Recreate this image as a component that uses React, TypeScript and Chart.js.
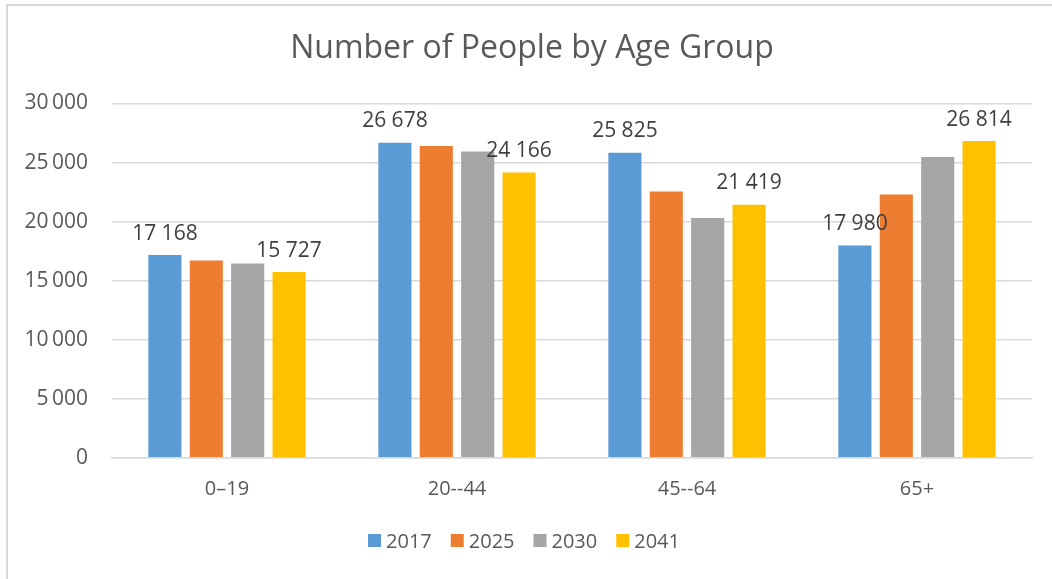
import React, { useEffect, useRef } from "react";
import { Chart, registerables } from "chart.js";

Chart.register(...registerables);

// ---- data ----
const categories = ["0–19", "20--44", "45--64", "65+"];
const seriesNames = ["2017", "2025", "2030", "2041"];
const values2017 = [17168, 26678, 25825, 17980];
const values2025 = [16700, 26400, 22550, 22300];
const values2030 = [16440, 25930, 20300, 25470];
const values2041 = [15727, 24166, 21419, 26814];
const seriesColors = ["#5B9BD5", "#ED7D31", "#A5A5A5", "#FFC000"];
const labeledSeries = [0, 3];
const yMin = 0;
const yMax = 30000;
const yStep = 5000;
const titleText = "Number of People by Age Group";

const FONT = "'Open Sans', sans-serif";
const TEXT = "#595959";
const LABEL = "#404040";
const GRID = "#D9D9D9";

function fmt(v: number, sep: string): string {
  return String(Math.round(v)).replace(/\B(?=(\d{3})+(?!\d))/g, sep);
}

const titlePlugin = {
  id: "customTitle",
  afterDraw(chart: any) {
    const ctx = chart.ctx;
    ctx.save();
    ctx.font = `32px ${FONT}`;
    ctx.fillStyle = TEXT;
    ctx.textAlign = "center";
    ctx.textBaseline = "alphabetic";
    ctx.fillText(titleText, chart.width / 2 + 6, 58);
    ctx.restore();
  },
};

const dataLabelPlugin = {
  id: "dataLabels",
  afterDatasetsDraw(chart: any) {
    const ctx = chart.ctx;
    ctx.save();
    ctx.font = `21px ${FONT}`;
    ctx.fillStyle = LABEL;
    ctx.textAlign = "center";
    ctx.textBaseline = "alphabetic";
    labeledSeries.forEach((di) => {
      const meta = chart.getDatasetMeta(di);
      const ds = chart.data.datasets[di];
      meta.data.forEach((bar: any, j: number) => {
        ctx.fillText(fmt(ds.data[j] as number, " "), bar.x, bar.y - 15.5);
      });
    });
    ctx.restore();
  },
};

const legendPlugin = {
  id: "customLegend",
  afterDraw(chart: any) {
    const ctx = chart.ctx;
    ctx.save();
    ctx.font = `20px ${FONT}`;
    const box = 13;
    const gap = 5;
    const itemGap = 19;
    const widths = chart.data.datasets.map(
      (ds: any) => box + gap + ctx.measureText(ds.label).width
    );
    const total =
      widths.reduce((a: number, b: number) => a + b, 0) +
      itemGap * (widths.length - 1);
    let x = chart.width / 2 - 2 - total / 2;
    const boxTop = 534;
    const baseline = 548;
    chart.data.datasets.forEach((ds: any, i: number) => {
      ctx.fillStyle = ds.backgroundColor;
      ctx.fillRect(x, boxTop, box, box);
      ctx.fillStyle = TEXT;
      ctx.textAlign = "left";
      ctx.textBaseline = "alphabetic";
      ctx.fillText(ds.label, x + box + gap, baseline);
      x += widths[i] + itemGap;
    });
    ctx.restore();
  },
};

export default function App() {
  const canvasRef = useRef<HTMLCanvasElement | null>(null);

  useEffect(() => {
    if (!canvasRef.current) return;
    const allValues = [values2017, values2025, values2030, values2041];
    const chart = new Chart(canvasRef.current, {
      type: "bar",
      data: {
        labels: categories,
        datasets: seriesNames.map((name, i) => ({
          label: name,
          data: allValues[i],
          backgroundColor: seriesColors[i],
          borderWidth: 0,
          categoryPercentage: 0.72,
          barPercentage: 0.8,
        })),
      },
      options: {
        responsive: false,
        animation: false,
        devicePixelRatio: 1,
        layout: { padding: { top: 103.5, left: 0, right: 20, bottom: 0 } },
        plugins: {
          legend: { display: false },
          title: { display: false },
          tooltip: { enabled: false },
        },
        scales: {
          x: {
            grid: { display: false, drawTicks: false },
            border: { display: true, color: GRID, width: 1.5 },
            ticks: {
              color: TEXT,
              font: { family: FONT, size: 20 },
              padding: 20,
              maxRotation: 0,
            },
            afterFit(scale: any) {
              scale.height = 579 - 457.7;
            },
          },
          y: {
            min: yMin,
            max: yMax,
            grid: { color: GRID, lineWidth: 1.5, drawTicks: false },
            border: { display: false },
            ticks: {
              stepSize: yStep,
              color: TEXT,
              font: { family: FONT, size: 21 },
              padding: 24,
              callback: (v: any) => fmt(Number(v), "\u2009"),
            },
            afterFit(scale: any) {
              scale.width = 112;
            },
          },
        },
      },
      plugins: [titlePlugin, dataLabelPlugin, legendPlugin],
    });
    return () => chart.destroy();
  }, []);

  return (
    <div>
      <div
        style={{
          position: "fixed",
          left: 6,
          top: 4,
          right: 0,
          bottom: 0,
          borderLeft: `2px solid ${GRID}`,
          borderTop: `2px solid ${GRID}`,
        }}
      />
      <div style={{ position: "fixed", left: 0, top: 0, width: 1052, height: 579 }}>
        <canvas
          ref={canvasRef}
          width={1052}
          height={579}
          style={{ display: "block", width: 1052, height: 579 }}
        />
      </div>
    </div>
  );
}
